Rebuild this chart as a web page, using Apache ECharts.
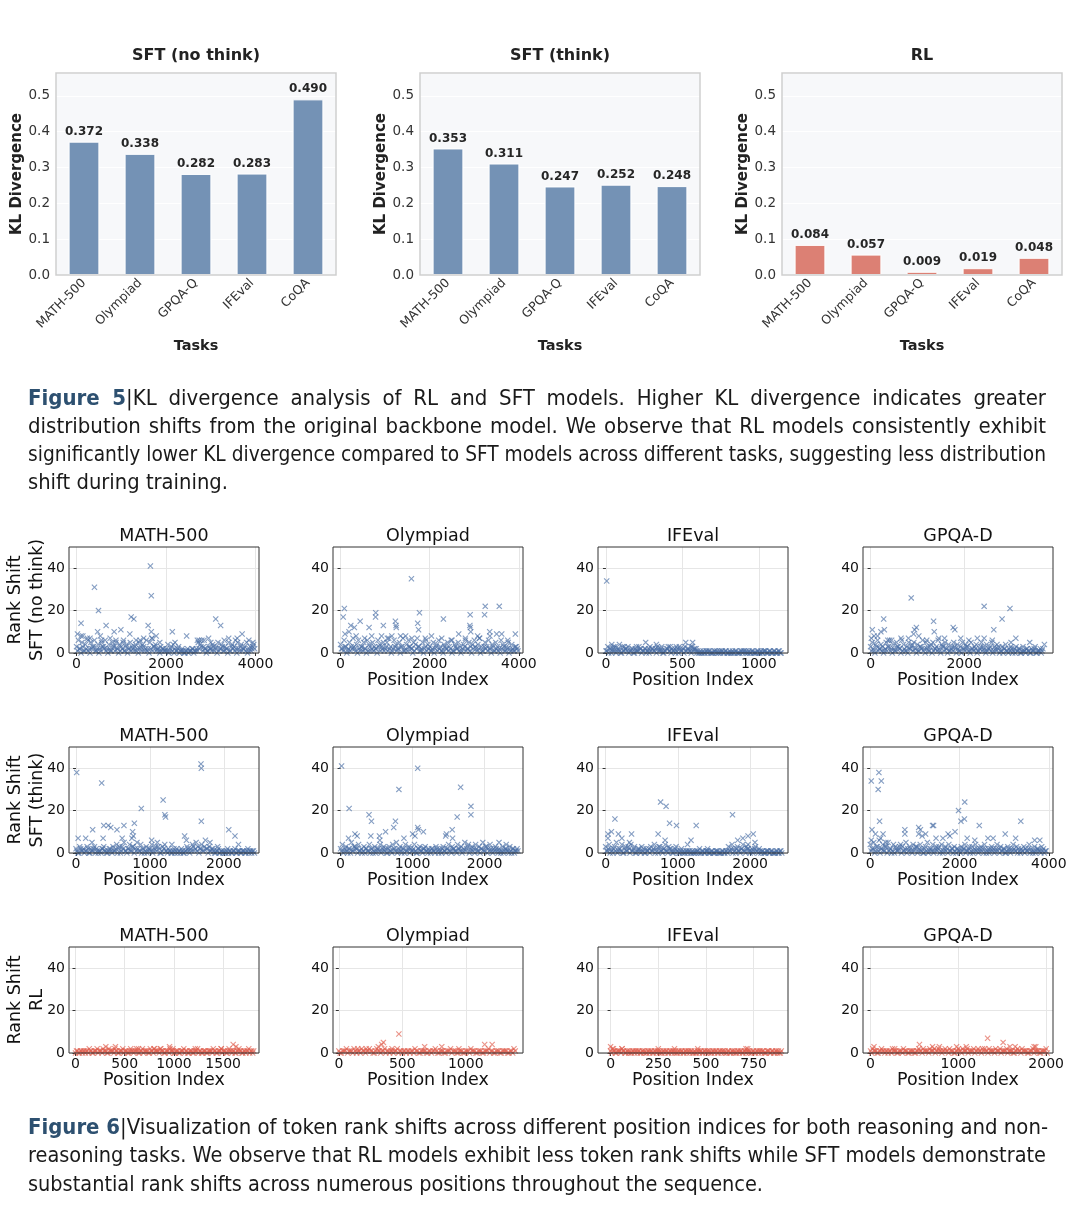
<!DOCTYPE html>
<html><head><meta charset="utf-8">
<script src="https://cdn.jsdelivr.net/npm/echarts@6/dist/echarts.min.js"></script>
<style>
html,body{margin:0;padding:0;background:#fff;}
#chart{position:absolute;left:0;top:0;width:1080px;height:1211px;}
.cap{position:absolute;left:28px;font-family:"Liberation Sans Narrow","DejaVu Sans Condensed","Liberation Sans",sans-serif;font-size:22px;color:#1a1a1a;line-height:28px;white-space:nowrap;}
.cap span{display:inline-block;transform-origin:0 50%;}
.fig{font-weight:bold;color:#2d5070;}
</style></head><body>
<div id="chart"></div>
<div class="cap" style="top:384px" data-w="1018"><span><b class="fig">Figure 5</b>|KL divergence analysis of RL and SFT models. Higher KL divergence indicates greater</span></div>
<div class="cap" style="top:412px" data-w="1018"><span>distribution shifts from the original backbone model. We observe that RL models consistently exhibit</span></div>
<div class="cap" style="top:440px" data-w="1018"><span>significantly lower KL divergence compared to SFT models across different tasks, suggesting less distribution</span></div>
<div class="cap" style="top:468px" data-w="200"><span>shift during training.</span></div>
<div class="cap" style="top:1113px" data-w="1020"><span><b class="fig">Figure 6</b>|Visualization of token rank shifts across different position indices for both reasoning and non-</span></div>
<div class="cap" style="top:1141px" data-w="1018"><span>reasoning tasks. We observe that RL models exhibit less token rank shifts while SFT models demonstrate</span></div>
<div class="cap" style="top:1170px" data-w="735"><span>substantial rank shifts across numerous positions throughout the sequence.</span></div>
<script>
// ---------------- DATA ----------------
const tasks = ['MATH-500','Olympiad','GPQA-Q','IFEval','CoQA'];
const klSftNoThink = [0.372,0.338,0.282,0.283,0.490];
const klSftThink = [0.353,0.311,0.247,0.252,0.248];
const klRL = [0.084,0.057,0.009,0.019,0.048];

const rankTasks = ['MATH-500','Olympiad','IFEval','GPQA-D'];

// dense low rank-shift values sampled along the sequence (one value per step positions)
const noThinkMathBand = [3,6,2,5,1,4,7,2,5,3,6,1,4,2,5,3,6,2,4,1,5,3,6,2,4,
3,5,1,4,2,5,3,1,4,2,5,3,4,1,6,2,5,7,3,4,2,1,3,2,1,
2,4,1,3,4,2,1,3,1,2,0,1,2,1,1,2,1,2,5,4,6,3,2,1,3,
2,4,1,3,5,2,4,1,3,2,5,1,4,3,2,5,1,4,2,3,5,1,3,2,4];
const noThinkOlyBand = [4,2,6,3,1,5,3,7,2,4,6,1,3,5,2,6,4,1,5,3,2,6,4,3,5,
2,5,7,3,1,6,4,2,5,3,7,1,4,6,3,2,5,4,7,3,1,5,2,6,4,
3,1,5,2,4,6,3,1,4,2,5,3,6,1,4,2,5,3,1,4,6,2,5,3,4,
6,2,4,7,3,1,5,3,6,2,4,1,5,3,2,6,4,1,3,5,2,4,1,3,2];
const noThinkIfeBand = [1,3,2,0,2,3,1,2,0,3,1,2,3,1,2,0,2,1,3,2,1,2,0,1,3,2,1,2,3,1,2,0,1,2,3,1,2,1,0,2,3,1,2,3,1,2,1,3,2,1,
1,0,0,1,0,1,1,0,0,1,0,0,1,1,0,1,0,0,0,1,0,1,0,0,1,1,0,0,1,0,1,0,0,1,0,0,1,1,0,1,0,0,1,0,1,0];
const noThinkGpqaBand = [3,5,1,4,6,2,4,3,1,5,3,6,2,4,1,5,3,2,6,4,1,3,5,2,4,
5,2,4,1,3,6,2,5,3,1,4,5,2,3,6,1,4,3,5,2,4,1,3,5,2,
4,1,3,5,2,4,3,1,5,2,3,4,1,2,5,3,1,4,2,3,5,1,2,4,3,
1,3,2,4,1,2,3,0,2,3,1,2,0,3,1,2,1,0,2,1,3,0,1,2,1];

const thinkMathBand = [2,0,3,1,2,1,3,0,2,1,3,2,0,1,2,3,1,0,2,1,
3,1,4,2,0,3,5,1,2,4,1,3,2,5,1,4,2,0,3,1,
2,4,1,3,5,2,0,3,4,1,2,1,0,2,1,0,1,2,0,1,
3,1,2,4,1,5,3,2,4,1,6,2,3,1,2,0,1,2,0,1,
1,0,2,1,0,1,2,0,1,0,1,1,0,2,1,0,1];
const thinkOlyBand = [2,4,1,3,0,2,5,1,3,2,4,1,0,3,2,1,4,2,0,3,1,2,4,1,3,
2,0,3,1,4,2,5,1,3,0,2,4,1,3,2,1,4,0,2,3,1,2,3,1,2,
0,2,1,3,1,2,0,3,1,2,4,1,3,2,1,4,2,3,1,5,2,4,1,3,2,
4,1,3,2,5,1,3,2,4,1,2,3,1,2,0,3,1,2,1,3,0,2,1,2];
const thinkIfeBand = [3,1,4,2,0,3,5,1,2,4,0,3,1,2,4,1,3,0,2,1,3,2,0,1,2,3,1,4,2,0,3,1,2,4,1,3,2,0,1,3,
1,0,2,1,0,1,1,0,1,0,0,1,2,0,1,0,1,0,0,1,0,1,1,0,0,1,0,1,
3,1,4,2,0,3,1,2,4,1,3,2,0,2,1,3,1,2,
0,1,0,1,1,0,1,0,0,1,0,1];
const thinkGpqaBand = [4,2,5,1,3,6,2,4,1,3,5,2,0,4,3,1,2,4,3,1,5,2,3,1,4,
2,3,1,4,2,0,3,5,1,2,4,1,3,2,0,4,1,3,2,4,1,2,3,0,2,
1,3,2,4,1,2,0,3,1,4,2,1,3,2,4,0,2,1,3,2,1,4,2,3,1,
2,0,3,1,2,4,1,3,2,0,1,3,2,1,4,2,0,3,1,2,1,3,2,1];

const rlMathBand = [0,1,0,1,1,0,1,2,1,0,1,2,1,1,2,1,0,2,1,1,2,1,0,1,2,1,1,0,2,1,1,2,0,1,2,1,1,0,2,1,2,1,1,2,1,0,1,1,2,1,
0,1,1,0,1,2,1,0,1,1,0,1,2,1,0,1,1,0,1,1,2,1,0,1,2,1,1,0,2,1,1,0,1,2,1,0,1,1,2,1,0];
const rlOlyBand = [1,0,1,2,1,1,2,0,1,2,1,1,2,1,0,2,1,1,2,1,0,1,1,2,1,0,1,1,0,1,2,1,0,1,1,0,1,1,2,0,
1,1,0,1,2,1,1,0,1,0,1,1,2,1,0,1,1,0,1,2,1,0,1,1,0,1,1,0,1,2];
const rlIfeBand = [1,2,1,0,1,1,2,1,0,1,1,0,1,1,0,1,0,1,1,0,1,1,0,1,0,1,1,0,1,1,0,1,0,1,1,0,1,1,0,1,0,1,1,0,1,
0,1,1,0,1,0,1,1,0,1,1,0,1,0,1,1,0,1,0,1,1,0,1,1,0,1,0,1,1,0,1,0,1,1,0,1,0,1,1,0,1,0,1,1,0];
const rlGpqaBand = [1,2,1,0,1,2,1,1,0,1,2,1,0,1,1,2,1,0,1,1,0,1,2,1,2,1,1,2,1,2,1,2,1,1,2,1,2,1,0,1,
2,1,2,1,2,1,1,2,1,2,1,2,2,1,2,1,1,2,1,2,1,1,2,1,1,0,1,2,1,2,1,1,0,1,2,1,1,0,1,1,2];

// second sample of the floor values, taken half a step later
const noThinkMathBase = [1,2,0,3,1,2,1,0,2,3,1,2,0,1,3,2,1,0,2,1,3,1,2,0,1,
2,1,3,0,2,1,2,3,1,0,2,1,3,2,1,0,2,1,3,1,2,0,1,2,1,
1,0,2,1,0,1,2,0,1,1,0,1,0,1,2,0,1,1,2,3,1,2,0,1,2,
1,3,2,0,1,2,3,1,2,0,1,3,2,1,0,2,3,1,2,1,0,2,1,3,2];
const noThinkOlyBase = [2,1,3,0,2,1,2,3,1,0,2,3,1,2,0,1,3,2,1,2,0,3,1,2,1,
3,1,2,0,2,3,1,2,0,3,1,2,1,3,2,0,1,2,3,1,2,0,3,1,2,
1,2,0,3,1,2,1,0,3,2,1,2,0,1,3,2,1,0,2,3,1,2,1,0,2,
3,1,2,0,1,3,2,1,2,0,3,1,2,1,0,2,3,1,2,0,1,2,1,3,1];
const noThinkIfeBase = [1,0,2,1,1,0,2,1,0,1,2,1,0,1,2,0,1,1,2,0,1,2,1,0,1,2,1,0,2,1,1,0,1,2,1,0,1,2,1,0,2,1,0,1,2,1,0,1,2,0,
0,1,0,0,1,0,1,0,0,1,1,0,0,1,0,1,0,1,0,0,1,0,0,1,0,1,1,0,0,1,0,0,1,0,1,0,1,0,0,1,0,1,0,0,1,0];
const noThinkGpqaBase = [1,2,0,3,1,2,1,0,2,1,3,1,0,2,1,3,2,0,1,2,1,0,2,3,1,
2,0,1,3,2,1,0,2,1,3,0,1,2,1,2,0,3,1,2,0,1,2,1,3,0,
2,1,0,2,1,3,1,0,2,1,2,0,1,3,1,2,0,1,2,1,0,3,1,2,0,
1,0,2,1,0,1,2,1,0,1,2,0,1,1,0,2,1,0,1,2,0,1,1,0,2];
const thinkMathBase = [1,0,2,1,0,1,2,0,1,2,0,1,1,0,2,1,0,1,2,0,
1,2,0,3,1,2,1,0,2,1,3,0,1,2,1,0,2,1,0,2,
1,0,2,1,3,0,1,2,1,0,1,0,1,0,2,1,0,1,0,1,
2,0,1,3,2,1,0,2,1,3,2,0,1,2,1,0,1,0,1,0,
0,1,0,1,0,1,0,1,1,0,1,0,1,0,1,1,0];
const thinkOlyBase = [1,0,2,1,2,0,1,3,2,0,1,2,1,0,2,1,0,2,1,0,2,1,0,2,1,
0,2,1,0,2,1,0,2,1,2,0,1,2,0,1,2,1,0,2,1,0,2,1,0,1,
2,1,0,2,0,1,2,1,0,2,1,0,2,1,0,2,1,0,2,1,3,0,2,1,0,
2,1,0,2,1,3,0,1,2,0,1,2,0,1,1,0,2,1,0,1,2,0,1,1];
const thinkIfeBase = [1,2,0,1,2,1,0,2,1,0,2,1,3,0,1,2,0,1,2,0,1,0,2,1,0,1,2,0,1,3,1,0,2,1,0,2,1,0,2,1,
0,1,0,0,1,0,1,0,0,1,1,0,0,1,0,1,1,0,1,0,0,1,0,0,1,0,1,0,
1,2,0,1,2,1,0,2,1,0,2,1,1,0,2,1,0,1,
1,0,0,1,0,1,0,0,1,0,1,0];
const thinkGpqaBase = [1,2,0,3,1,0,2,1,3,0,1,2,1,0,2,1,3,0,1,2,0,1,2,0,1,
3,0,2,1,0,2,1,0,2,1,0,2,1,3,1,0,2,1,0,1,2,0,1,2,1,
0,1,2,0,1,3,1,0,2,1,0,2,1,0,2,1,0,2,1,0,2,1,0,1,2,
0,1,2,0,1,2,1,0,1,2,1,0,1,2,0,1,1,0,2,1,0,1,0,1];
const rlMathBase = [1,0,1,0,1,1,0,1,0,1,1,0,1,0,1,1,0,1,1,0,1,0,1,1,0,1,0,1,1,0,1,1,0,1,0,1,1,0,1,0,1,1,0,1,1,0,1,0,1,1,
0,1,0,1,1,0,1,0,1,0,1,1,0,1,0,1,0,1,1,0,1,0,1,1,0,1,0,1,1,0,1,0,1,1,0,1,0,1,0,1,1];
const rlOlyBase = [0,1,1,0,1,0,1,1,0,1,0,1,1,0,1,1,0,1,0,1,1,0,1,0,1,1,0,1,1,0,1,0,1,1,0,1,0,1,1,0,
1,0,1,1,0,1,0,1,1,0,1,0,1,1,0,1,0,1,1,0,1,0,1,0,1,1,0,1,0,1];
const rlIfeBase = [0,1,0,1,1,0,1,0,1,0,0,1,0,1,1,0,1,0,0,1,0,1,0,1,1,0,0,1,0,1,0,1,1,0,0,1,0,1,0,1,1,0,1,0,0,
1,0,1,0,1,1,0,0,1,0,1,0,1,1,0,0,1,0,1,0,0,1,0,1,0,1,1,0,0,1,0,1,0,1,1,0,0,1,0,1,0,1,0,0,1];
const rlGpqaBase = [0,1,1,0,1,1,0,1,1,0,1,1,0,1,0,1,1,0,1,1,0,1,1,0,1,1,0,1,1,0,1,1,0,1,1,0,1,1,0,1,
1,0,1,1,0,1,1,0,1,1,0,1,1,0,1,1,0,1,1,0,1,1,0,1,1,0,1,1,0,1,1,0,1,1,0,1,1,0,1,1,0];

// position steps of the sampled values
const bandSteps = [40,40,12,37, 25,25,25,40, 20,20,10,25];

// individual larger rank shifts [position, shift]
const noThinkMathOut = [[20,9],[100,14],[100,8],[140,8],[250,6],[300,7],[400,31],[470,10],[490,20],[530,8],[560,6],[660,13],[750,7],[840,10],[880,5],[990,11],[1050,6],[1190,9],[1220,17],[1280,16],[1330,6],[1420,6],[1500,7],[1600,13],[1650,41],[1670,27],[1670,10],[1690,7],[1780,8],[1860,5],[2140,10],[2200,5],[2460,8],[2700,6],[2740,6],[2850,6],[2950,7],[3000,5],[3110,16],[3220,13],[3300,6],[3400,7],[3550,6],[3590,7],[3700,9],[3850,6],[3940,5]];
const noThinkOlyOut = [[60,17],[85,21],[100,9],[190,10],[230,13],[310,12],[350,8],[440,15],[540,7],[640,12],[700,8],[785,17],[790,19],[920,8],[960,13],[1050,7],[1150,8],[1230,15],[1245,13],[1250,12],[1345,8],[1460,8],[1590,35],[1600,7],[1730,14],[1750,11],[1770,19],[1900,7],[2040,8],[2270,7],[2307,16],[2500,6],[2650,9],[2800,7],[2900,13],[2907,18],[2910,12],[2920,10],[3075,8],[3110,7],[3230,18],[3245,22],[3345,10],[3350,8],[3500,9],[3560,22],[3615,9],[3750,6],[3920,9]];
const noThinkIfeOut = [[5,34],[38,4],[50,3],[88,4],[120,3],[200,3],[260,5],[280,2],[330,4],[365,3],[420,3],[460,3],[522,5],[556,3],[567,5],[590,2]];
const noThinkGpqaOut = [[15,7],[37,11],[74,8],[150,8],[220,10],[280,16],[294,11],[368,6],[450,6],[650,7],[809,7],[868,26],[919,9],[941,11],[978,12],[1030,8],[1200,6],[1346,15],[1360,10],[1456,7],[1580,7],[1765,12],[1800,11],[1926,7],[2100,6],[2280,7],[2426,22],[2426,7],[2600,6],[2632,11],[2809,16],[2978,21],[3000,5],[3103,7],[3400,5],[3713,4]];

const thinkMathOut = [[9,38],[28,7],[131,7],[216,5],[225,11],[347,33],[366,7],[375,13],[437,13],[470,12],[554,11],[624,7],[648,13],[756,7],[765,10],[775,8],[789,14],[883,21],[1023,6],[1178,25],[1202,18],[1211,17],[1296,4],[1469,8],[1493,6],[1690,42],[1695,40],[1695,15],[1812,5],[1915,3],[2066,11],[2150,8],[2197,4]];
const thinkOlyOut = [[14,41],[110,7],[119,21],[200,9],[230,8],[395,18],[420,8],[429,15],[540,8],[545,6],[625,10],[738,12],[762,15],[810,30],[880,7],[1000,9],[1033,8],[1071,40],[1071,12],[1080,11],[1150,10],[1460,8],[1470,9],[1550,11],[1555,7],[1619,17],[1667,31],[1810,22],[1810,18],[2200,5],[2300,4]];
const thinkIfeOut = [[33,9],[33,7],[81,10],[129,16],[177,9],[225,7],[330,5],[359,9],[727,9],[761,24],[823,6],[837,22],[885,14],[981,13],[1134,4],[1182,6],[1254,13],[1411,2],[1756,18],[1828,6],[1900,7],[1971,8],[1971,4],[2043,9],[2067,5]];
const thinkGpqaOut = [[23,34],[23,6],[39,11],[116,9],[178,30],[194,38],[209,15],[233,7],[248,34],[287,9],[349,5],[775,11],[775,9],[1085,12],[1085,9],[1124,11],[1163,8],[1240,9],[1395,13],[1419,13],[1473,7],[1628,7],[1744,9],[1783,8],[1899,10],[1977,20],[2031,15],[2109,16],[2116,24],[2171,7],[2341,6],[2442,13],[2636,7],[2752,7],[3023,9],[3256,7],[3372,15],[3682,6],[3798,6]];

const rlMathOut = [[308,3],[406,3],[640,2],[797,2],[867,2],[955,3],[990,2],[1217,2],[1479,2],[1602,4],[1630,3]];
const rlOlyOut = [[149,2],[216,2],[311,3],[338,4],[351,5],[419,2],[473,9],[676,3],[811,3],[946,2],[1149,4],[1208,4]];
const rlIfeOut = [[0,3],[15,2],[60,2],[250,2],[335,2],[457,2],[710,2],[719,2]];
const rlGpqaOut = [[39,3],[275,2],[557,4],[706,3],[784,3],[980,3],[1090,3],[1333,7],[1510,5],[1588,3],[1647,3],[1863,3],[1882,3]];

// axis ranges / tick spacing of the position axes
const xMins = [-169,-169,-52,-162, -95,-105,-105,-162, -66,-46,-66,-86];
const xMaxs = [4077,4092,1191,3897, 2475,2533,2524,4093, 1864,1451,930,2078];
const xTicks = [2000,2000,500,2000, 1000,1000,1000,2000, 500,500,250,1000];

const rowLabels = ['SFT (no think)','SFT (think)','RL'];

// ---------------- CHART ----------------
const FONT = 'DejaVu Sans';
const chart = echarts.init(document.getElementById('chart'), null, {renderer:'canvas'});
const grids=[], xAxes=[], yAxes=[], series=[], titles=[], graphics=[];

const barPanels = [
  {name:'SFT (no think)', data:klSftNoThink, color:'#7492b5', left:56},
  {name:'SFT (think)', data:klSftThink, color:'#7492b5', left:420},
  {name:'RL', data:klRL, color:'#dc8074', left:782}
];
const BW=280, BT=73, BH=202;
barPanels.forEach((p,i)=>{
  grids.push({left:p.left, top:BT, width:BW, height:BH, show:true, backgroundColor:'#f7f8fa', borderWidth:0, containLabel:false, outerBoundsMode:'none'});
  xAxes.push({type:'category', gridIndex:i, data:tasks, boundaryGap:true,
    axisLine:{show:false}, axisTick:{show:false}, splitLine:{show:false},
    axisLabel:{rotate:45, interval:0, fontSize:12.5, color:'#333', margin:6, fontFamily:FONT},
    name:'Tasks', nameLocation:'middle', nameGap:64,
    nameTextStyle:{fontWeight:'bold', fontSize:14.5, color:'#222', fontFamily:FONT}});
  yAxes.push({type:'value', gridIndex:i, min:0, max:0.5635, interval:0.1,
    axisLine:{show:false}, axisTick:{show:false},
    axisLabel:{formatter:v=>v.toFixed(1), showMaxLabel:false, fontSize:13.5, color:'#333', margin:6, fontFamily:FONT},
    splitLine:{show:true, lineStyle:{color:'#ffffff', width:1}},
    name:'KL Divergence', nameLocation:'middle', nameGap:30, nameRotate:90,
    nameTextStyle:{fontWeight:'bold', fontSize:15, color:'#222', fontFamily:FONT}});
  series.push({type:'bar', xAxisIndex:i, yAxisIndex:i, data:p.data, barWidth:'55%',
    itemStyle:{color:p.color, borderColor:'#ffffff', borderWidth:1},
    label:{show:true, position:'top', distance:4, formatter:d=>d.value.toFixed(3),
      fontWeight:'bold', fontSize:12, color:'#262626', fontFamily:FONT}});
  titles.push({text:p.name, left:p.left+BW/2, top:46, textAlign:'center', padding:0,
    textStyle:{fontSize:16, fontWeight:'bold', color:'#222', fontFamily:FONT, lineHeight:20}});
  graphics.push({type:'rect', silent:true, z:100, shape:{x:p.left, y:BT, width:BW, height:BH},
    style:{fill:null, stroke:'#cfcfcf', lineWidth:1.5}});
});

const bands = [noThinkMathBand,noThinkOlyBand,noThinkIfeBand,noThinkGpqaBand,
  thinkMathBand,thinkOlyBand,thinkIfeBand,thinkGpqaBand,
  rlMathBand,rlOlyBand,rlIfeBand,rlGpqaBand];
const bases = [noThinkMathBase,noThinkOlyBase,noThinkIfeBase,noThinkGpqaBase,
  thinkMathBase,thinkOlyBase,thinkIfeBase,thinkGpqaBase,
  rlMathBase,rlOlyBase,rlIfeBase,rlGpqaBase];
const outs = [noThinkMathOut,noThinkOlyOut,noThinkIfeOut,noThinkGpqaOut,
  thinkMathOut,thinkOlyOut,thinkIfeOut,thinkGpqaOut,
  rlMathOut,rlOlyOut,rlIfeOut,rlGpqaOut];

const colLefts = [69,333,598,863];
const rowTops = [547,747,947];
const SW=190, SH=106;
const rowColors = ['#4a6ea5','#4a6ea5','#e0604f'];
const XSYM = 'path://M0,1.3L1.3,0L5,3.7L8.7,0L10,1.3L6.3,5L10,8.7L8.7,10L5,6.3L1.3,10L0,8.7L3.7,5Z';

for (let r=0;r<3;r++){
  for (let c=0;c<4;c++){
    const k=r*4+c, gi=3+k;
    const L=colLefts[c], T=rowTops[r];
    grids.push({left:L, top:T, width:SW, height:SH, show:true, backgroundColor:'#ffffff', borderWidth:0, containLabel:false, outerBoundsMode:'none'});
    const tv=[]; for (let v=0; v<=xMaxs[k]; v+=xTicks[k]) tv.push(v);
    xAxes.push({type:'value', gridIndex:gi, min:xMins[k], max:xMaxs[k], minInterval:xTicks[k], maxInterval:xTicks[k],
      axisLine:{show:false},
      axisTick:{show:true, length:3, lineStyle:{color:'#333'}, customValues:tv},
      axisLabel:{showMinLabel:false, showMaxLabel:false, formatter:v=>String(Math.round(v)), fontSize:14, color:'#111', margin:4, fontFamily:FONT},
      splitLine:{show:true, lineStyle:{color:'#e6e6e6', width:1}},
      name:'Position Index', nameLocation:'middle', nameGap:17,
      nameTextStyle:{fontSize:17.5, color:'#111', fontFamily:FONT}});
    yAxes.push({type:'value', gridIndex:gi, min:0, max:50, interval:20,
      axisLine:{show:false},
      axisTick:{show:true, length:3, lineStyle:{color:'#333'}, customValues:[0,20,40]},
      axisLabel:{showMaxLabel:false, fontSize:14, color:'#111', margin:4, fontFamily:FONT},
      splitLine:{show:true, lineStyle:{color:'#e6e6e6', width:1}}});
    const st = bandSteps[k];
    const pts = bands[k].map((v,i)=>[i*st, v])
      .concat(bases[k].map((v,i)=>[i*st + st/2, v]))
      .concat(outs[k]);
    series.push({type:'scatter', xAxisIndex:gi, yAxisIndex:gi, data:pts, symbol:XSYM, symbolSize:6,
      itemStyle:{color:rowColors[r], opacity:0.68}, silent:true});
    titles.push({text:rankTasks[c], left:L+SW/2, top:T-21, textAlign:'center', padding:0,
      textStyle:{fontSize:17.5, fontWeight:'normal', color:'#111', fontFamily:FONT, lineHeight:21}});
    graphics.push({type:'rect', silent:true, z:100, shape:{x:L, y:T, width:SW, height:SH},
      style:{fill:null, stroke:'#333', lineWidth:1}});
  }
  const cy = rowTops[r]+SH/2;
  graphics.push({type:'text', silent:true, z:100, x:15, y:cy, rotation:Math.PI/2,
    style:{text:'Rank Shift', font:'17.5px "DejaVu Sans"', fill:'#111', textAlign:'center', textVerticalAlign:'middle'}});
  graphics.push({type:'text', silent:true, z:100, x:37, y:cy, rotation:Math.PI/2,
    style:{text:rowLabels[r], font:'17.5px "DejaVu Sans"', fill:'#111', textAlign:'center', textVerticalAlign:'middle'}});
}

chart.setOption({
  animation:false,
  backgroundColor:'#ffffff',
  textStyle:{fontFamily:FONT},
  title:titles, grid:grids, xAxis:xAxes, yAxis:yAxes, series:series, graphic:graphics
});

// caption line fitting
function fitCaps(){
  document.querySelectorAll('.cap').forEach(function(d){
    var s=d.firstElementChild, T=+d.dataset.w;
    s.style.transform=''; s.style.wordSpacing='';
    var w=s.getBoundingClientRect().width;
    var n=(s.textContent.trim().match(/\s+/g)||[]).length;
    if (w>T) s.style.transform='scaleX('+(T/w)+')';
    else if (n) s.style.wordSpacing=((T-w)/n)+'px';
  });
}
fitCaps();
if (document.fonts && document.fonts.ready) document.fonts.ready.then(fitCaps);
</script>
</body></html>
